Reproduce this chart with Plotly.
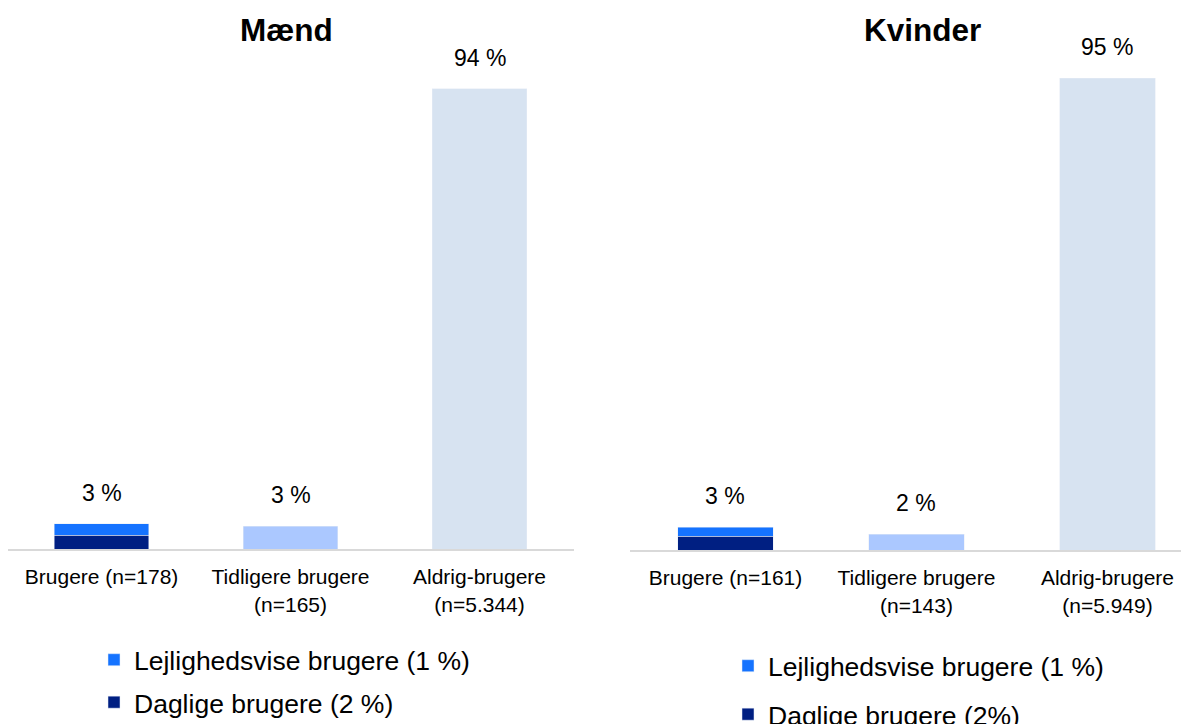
import plotly.graph_objects as go

# kategorier og værdier (søjlehøjder i %)
kategorier_m = ["Brugere (n=178)", "Tidligere brugere<br>(n=165)", "Aldrig-brugere<br>(n=5.344)"]
kategorier_k = ["Brugere (n=161)", "Tidligere brugere<br>(n=143)", "Aldrig-brugere<br>(n=5.949)"]

daglige_m = [2.86]
lejlighed_m = [2.25]
tidligere_m = [4.7]
aldrig_m = [94]
etiketter_m = ["3 %", "3 %", "94 %"]

daglige_k = [2.82]
lejlighed_k = [1.81]
tidligere_k = [3.22]
aldrig_k = [95]
etiketter_k = ["3 %", "2 %", "95 %"]

legend_m = ["Daglige brugere (2 %)", "Lejlighedsvise brugere (1 %)"]
legend_k = ["Daglige brugere (2%)", "Lejlighedsvise brugere (1 %)"]

FONT = "Liberation Sans, Arial, sans-serif"
MOERK = "#001F82"
LYS = "#1573FF"
TIDL = "#ABC8FF"
ALDRIG = "#D7E3F1"

# siden har 8 px body-margen, så figuren gøres tilsvarende mindre
W, H = 1181, 716

fig = go.Figure()


def tilfoej_panel(kat, daglige, lejlighed, tidligere, aldrig, navne, xa, ya, leg):
    fig.add_trace(go.Bar(x=kat[:1], y=daglige, name=navne[0], marker_color=MOERK,
                         xaxis=xa, yaxis=ya, legend=leg, legendgroup=leg + "a",
                         legendrank=2, width=0.5))
    fig.add_trace(go.Bar(x=kat[:1], y=lejlighed, name=navne[1], marker_color=LYS,
                         xaxis=xa, yaxis=ya, legend=leg, legendgroup=leg + "b",
                         legendrank=1, width=0.5))
    fig.add_trace(go.Bar(x=kat[1:2], y=tidligere, marker_color=TIDL, showlegend=False,
                         xaxis=xa, yaxis=ya, width=0.5))
    fig.add_trace(go.Bar(x=kat[2:3], y=aldrig, marker_color=ALDRIG, showlegend=False,
                         xaxis=xa, yaxis=ya, width=0.5))


tilfoej_panel(kategorier_m, daglige_m, lejlighed_m, tidligere_m, aldrig_m, legend_m, "x", "y", "legend")
tilfoej_panel(kategorier_k, daglige_k, lejlighed_k, tidligere_k, aldrig_k, legend_k, "x2", "y2", "legend2")

# værdietiketter over søjlerne
totaler_m = [daglige_m[0] + lejlighed_m[0], tidligere_m[0], aldrig_m[0]]
totaler_k = [daglige_k[0] + lejlighed_k[0], tidligere_k[0], aldrig_k[0]]
for kat, tot, et, xr, yr in [(kategorier_m, totaler_m, etiketter_m, "x", "y"),
                             (kategorier_k, totaler_k, etiketter_k, "x2", "y2")]:
    for k, t, e in zip(kat, tot, et):
        fig.add_annotation(x=k, y=t, text=e, xref=xr, yref=yr, showarrow=False,
                           yanchor="middle", yshift=31, font=dict(size=23, color="black"))

for tekst, xpos in [("Mænd", 278 / W), ("Kvinder", 914 / W)]:
    fig.add_annotation(x=xpos, y=1 - 22 / H, xref="paper", yref="paper", text="<b>" + tekst + "</b>",
                       showarrow=False, xanchor="center", yanchor="middle",
                       font=dict(size=31.5, color="black"))

akse = dict(type="category", showline=True, linecolor="#D9D9D9", linewidth=2,
            showgrid=False, zeroline=False, ticks="", ticklabelstandoff=8,
            tickfont=dict(size=21, color="black"))
fig.update_layout(
    width=W, height=H,
    margin=dict(l=0, r=0, t=0, b=0, autoexpand=False),
    paper_bgcolor="white", plot_bgcolor="white",
    font=dict(family=FONT, color="black"),
    barmode="stack",
    xaxis=dict(akse, domain=[0, 566 / W], range=[-0.495, 2.5],
               categoryorder="array", categoryarray=kategorier_m),
    xaxis2=dict(akse, domain=[622 / W, 1.0], range=[-0.5, 2.427],
                categoryorder="array", categoryarray=kategorier_k, anchor="y2"),
    yaxis=dict(domain=[175 / H, 684 / H], range=[0, 104], visible=False),
    yaxis2=dict(domain=[174 / H, 684 / H], range=[0, 102.7], visible=False, anchor="x2"),
    legend=dict(x=86 / W, y=1 - 628 / H, xanchor="left", yanchor="top",
                traceorder="grouped", tracegroupgap=5,
                font=dict(size=26.5, color="black"), bgcolor="rgba(0,0,0,0)"),
    legend2=dict(x=720 / W, y=1 - 634 / H, xanchor="left", yanchor="top",
                 traceorder="grouped", tracegroupgap=11,
                 font=dict(size=26.5, color="black"), bgcolor="rgba(0,0,0,0)"),
)

fig.write_html("out.html")
